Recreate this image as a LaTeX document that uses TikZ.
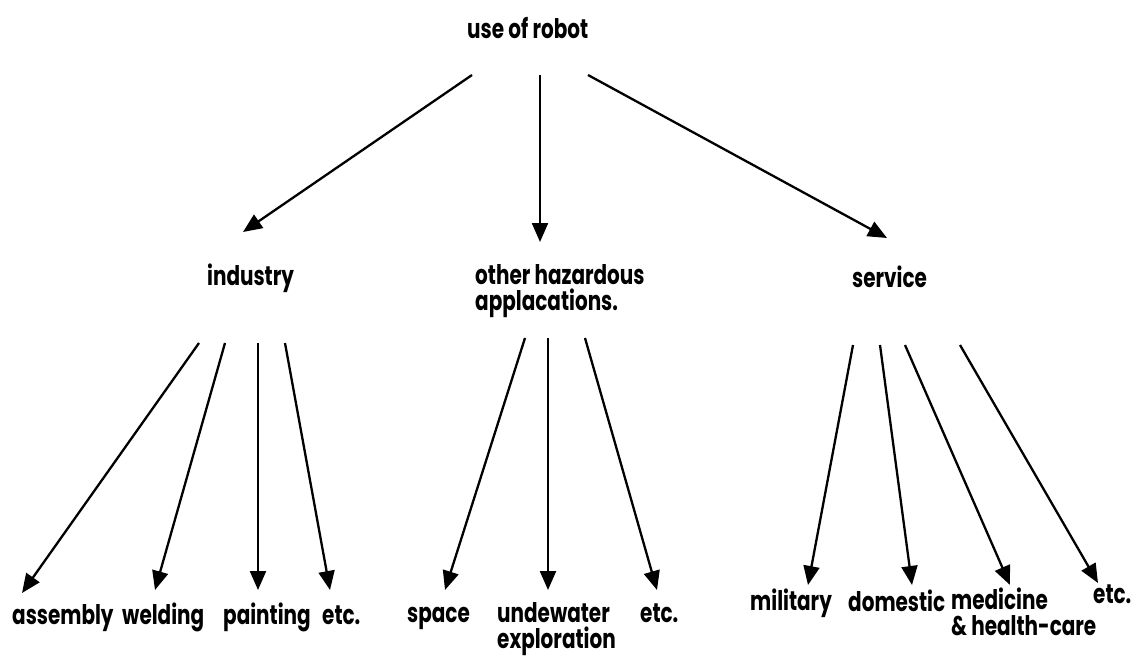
\documentclass[tikz,border=0pt]{standalone}
\usepackage{fontspec}
\setmainfont{Poppins}[FakeStretch=0.74]
\usetikzlibrary{arrows.meta}
\tikzset{
  lbl/.style={inner sep=0pt, anchor=base west, font=\fontsize{27}{26}\selectfont\bfseries, align=left},
  arr/.style={line width=2.3pt, -{Triangle[length=19pt,width=16pt]}}
}
\begin{document}
\begin{tikzpicture}[x=1pt,y=-1pt]
\useasboundingbox[fill=white] (0,0) rectangle (1132,658);
% nodes (multi-line nodes: base = last line)
\node[lbl] (robot) at (467,39) {use of robot};
\node[lbl] (industry) at (207,285) {industry};
\node[lbl] (hazard) at (475,310) {other hazardous\\applacations.};
\node[lbl] (service) at (852,287) {service};
\node[lbl] (assembly) at (12,624) {assembly};
\node[lbl] (welding) at (122,624) {welding};
\node[lbl] (painting) at (223,624) {painting};
\node[lbl] (etc1) at (322,624) {etc.};
\node[lbl] (space) at (407,622) {space};
\node[lbl] (under) at (497,648) {undewater\\exploration};
\node[lbl] (etc2) at (640,622) {etc.};
\node[lbl] (military) at (750,610) {military};
\node[lbl] (domestic) at (848,611) {domestic};
\node[lbl] (medicine) at (951,635) {medicine\\\& health-care};
\node[lbl] (etc3) at (1093,603) {etc.};
% connector end points
\coordinate (r1) at (472,75); \coordinate (r2) at (540,75); \coordinate (r3) at (588,75);
\coordinate (ti) at (243,232); \coordinate (th) at (540,242); \coordinate (ts) at (887,238);
\coordinate (i1) at (199,343); \coordinate (i2) at (225,343); \coordinate (i3) at (258,343); \coordinate (i4) at (285,343);
\coordinate (ta) at (22,593); \coordinate (tw) at (155,590); \coordinate (tp) at (258,590); \coordinate (te1) at (330,590);
\coordinate (h1) at (525,338); \coordinate (h2) at (548,338); \coordinate (h3) at (585,338);
\coordinate (tsp) at (445,590); \coordinate (tu) at (548,590); \coordinate (te2) at (657,590);
\coordinate (s1) at (853,345); \coordinate (s2) at (880,345); \coordinate (s3) at (905,345); \coordinate (s4) at (960,345);
\coordinate (tm) at (808,585); \coordinate (td) at (912,585); \coordinate (tmed) at (1010,585); \coordinate (te3) at (1098,583);
% connectors
\draw[arr] (r1) -- (ti);
\draw[arr] (r2) -- (th);
\draw[arr] (r3) -- (ts);
\draw[arr] (i1) -- (ta);
\draw[arr] (i2) -- (tw);
\draw[arr] (i3) -- (tp);
\draw[arr] (i4) -- (te1);
\draw[arr] (h1) -- (tsp);
\draw[arr] (h2) -- (tu);
\draw[arr] (h3) -- (te2);
\draw[arr] (s1) -- (tm);
\draw[arr] (s2) -- (td);
\draw[arr] (s3) -- (tmed);
\draw[arr] (s4) -- (te3);
\end{tikzpicture}
\end{document}
